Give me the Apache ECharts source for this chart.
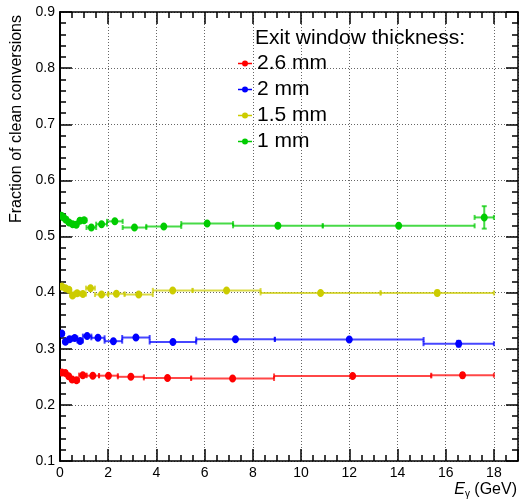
<!DOCTYPE html>
<html>
<head>
<meta charset="utf-8">
<script src="https://cdn.jsdelivr.net/npm/echarts@6/dist/echarts.min.js"></script>
<style>
html,body{margin:0;padding:0;background:#fff;}
#chart{width:519px;height:500px;}
</style>
</head>
<body>
<div id="chart"></div>
<script>
// ---- data ----
const seriesNames = ['2.6 mm', '2 mm', '1.5 mm', '1 mm'];
const legendTitle = 'Exit window thickness:';
const xTickLabels = [0, 2, 4, 6, 8, 10, 12, 14, 16, 18];
const yTickLabels = [0.1, 0.2, 0.3, 0.4, 0.5, 0.6, 0.7, 0.8, 0.9];

// 2.6 mm (red)
const e26   = [0.075, 0.22, 0.36, 0.505, 0.685, 0.945, 1.36, 2.01, 2.94, 4.46, 7.16, 12.14, 16.7];
const hw26  = [0.075, 0.07, 0.07, 0.075, 0.105, 0.155, 0.26, 0.39, 0.54, 0.98, 1.72, 3.26, 1.3];
const v26   = [0.2576, 0.257, 0.251, 0.245, 0.244, 0.253, 0.252, 0.252, 0.250, 0.248, 0.247, 0.2515, 0.2528];
const err26 = [0.003, 0.003, 0.003, 0.003, 0.002, 0.002, 0.002, 0.002, 0.002, 0.002, 0.002, 0.002, 0.004];

// 2 mm (blue)
const e20   = [0.075, 0.225, 0.40, 0.61, 0.835, 1.125, 1.575, 2.215, 3.15, 4.685, 7.28, 12.0, 16.54];
const hw20  = [0.075, 0.075, 0.10, 0.11, 0.115, 0.175, 0.275, 0.365, 0.57, 0.965, 1.63, 3.085, 1.46];
const v20   = [0.327, 0.3125, 0.317, 0.319, 0.314, 0.3225, 0.3195, 0.3135, 0.320, 0.312, 0.317, 0.3165, 0.309];
const err20 = [0.003, 0.003, 0.003, 0.003, 0.002, 0.002, 0.002, 0.002, 0.002, 0.002, 0.002, 0.002, 0.005];

// 1.5 mm (yellow)
const e15   = [0.075, 0.225, 0.37, 0.52, 0.71, 0.95, 1.265, 1.725, 2.34, 3.265, 4.675, 6.91, 10.81, 15.65];
const hw15  = [0.075, 0.075, 0.07, 0.08, 0.11, 0.13, 0.185, 0.275, 0.34, 0.585, 0.825, 1.41, 2.49, 2.35];
const v15   = [0.411, 0.408, 0.405, 0.395, 0.399, 0.3975, 0.408, 0.3966, 0.398, 0.3966, 0.404, 0.4037, 0.3995, 0.3995];
const err15 = [0.003, 0.003, 0.003, 0.003, 0.002, 0.002, 0.002, 0.002, 0.002, 0.002, 0.002, 0.002, 0.002, 0.004];

// 1 mm (green)
const e10   = [0.05, 0.15, 0.25, 0.375, 0.525, 0.675, 0.825, 1.0, 1.3, 1.725, 2.275, 3.09, 4.305, 6.105, 9.04, 14.05, 17.6];
const hw10  = [0.05, 0.05, 0.05, 0.075, 0.075, 0.075, 0.075, 0.1, 0.2, 0.225, 0.325, 0.49, 0.725, 1.075, 1.86, 3.15, 0.4];
const v10   = [0.537, 0.534, 0.530, 0.525, 0.522, 0.521, 0.528, 0.529, 0.516, 0.522, 0.527, 0.516, 0.518, 0.523, 0.519, 0.519, 0.534];
const err10 = [0.004, 0.004, 0.004, 0.003, 0.003, 0.003, 0.003, 0.003, 0.003, 0.002, 0.002, 0.002, 0.002, 0.002, 0.002, 0.002, 0.02];

const seriesColors = ['#ff0000', '#0000ff', '#cccc00', '#00cc00'];
const FONT = 'Liberation Sans, Arial, Helvetica, sans-serif';

function rows(e, hw, v, err) {
  return e.map((x, i) => [x, v[i], hw[i], err[i]]);
}
const seriesData = [
  rows(e26, hw26, v26, err26),
  rows(e20, hw20, v20, err20),
  rows(e15, hw15, v15, err15),
  rows(e10, hw10, v10, err10)
];

function makeRender(color) {
  return function (params, api) {
    const E = api.value(0), v = api.value(1), hw = api.value(2), er = api.value(3);
    const pL = api.coord([E - hw, v]);
    const pR = api.coord([E + hw, v]);
    const pC = api.coord([E, v]);
    const pT = api.coord([E, v + er]);
    const pB = api.coord([E, v - er]);
    const ls = { stroke: color, lineWidth: 2, opacity: 0.72 };
    const cap = 2.5;
    return {
      type: 'group',
      children: [
        { type: 'line', shape: { x1: pL[0], y1: pL[1], x2: pR[0], y2: pR[1] }, style: ls },
        { type: 'line', shape: { x1: pL[0], y1: pL[1] - cap, x2: pL[0], y2: pL[1] + cap }, style: ls },
        { type: 'line', shape: { x1: pR[0], y1: pR[1] - cap, x2: pR[0], y2: pR[1] + cap }, style: ls },
        { type: 'line', shape: { x1: pT[0], y1: pT[1], x2: pB[0], y2: pB[1] }, style: ls },
        { type: 'line', shape: { x1: pT[0] - cap, y1: pT[1], x2: pT[0] + cap, y2: pT[1] }, style: ls },
        { type: 'line', shape: { x1: pB[0] - cap, y1: pB[1], x2: pB[0] + cap, y2: pB[1] }, style: ls },
        { type: 'ellipse', shape: { cx: pC[0], cy: pC[1], rx: 3.5, ry: 4 }, style: { fill: color } }
      ]
    };
  };
}

const legendIcon = 'path://M0,2.25H4.2V3.75H0Z M9.8,2.25H14V3.75H9.8Z M4,3A3,3 0 0,1 10,3A3,3 0 0,1 4,3Z';

const chart = echarts.init(document.getElementById('chart'), null, { renderer: 'canvas' });

const axisText = { color: '#000', fontFamily: FONT, fontSize: 14 };

chart.setOption({
  animation: false,
  backgroundColor: '#fff',
  textStyle: { fontFamily: FONT },
  title: {
    text: legendTitle,
    left: 255,
    top: 28,
    textStyle: { fontFamily: FONT, fontSize: 21, fontWeight: 'normal', color: '#000' },
    padding: 0
  },
  legend: {
    orient: 'vertical',
    left: 238,
    top: 53,
    itemWidth: 14,
    itemHeight: 6,
    itemGap: 5,
    padding: 0,
    textStyle: { fontFamily: FONT, fontSize: 21, color: '#000' },
    data: seriesNames.map((n, k) => ({
      name: n,
      icon: legendIcon,
      itemStyle: { color: seriesColors[k], borderWidth: 0, opacity: 1 }
    }))
  },
  grid: { left: 60, right: 1, top: 12, bottom: 39, containLabel: false },
  xAxis: [{
    type: 'value',
    min: 0, max: 19, interval: 2,
    axisLine: { show: true, onZero: false, lineStyle: { color: '#000', width: 1.5 } },
    axisTick: { show: true, inside: true, length: 12, lineStyle: { color: '#000', width: 1.5 } },
    minorTick: { show: true, splitNumber: 4, length: 6, lineStyle: { color: '#000', width: 1.5 } },
    axisLabel: {
      ...axisText, margin: 5, showMaxLabel: false,
      formatter: v => (xTickLabels.indexOf(v) >= 0 ? String(v) : '')
    },
    splitLine: { show: true, lineStyle: { color: '#666', type: [1, 2], width: 1 } }
  }, {
    type: 'value', position: 'top',
    min: 0, max: 19, interval: 2,
    axisLine: { show: true, onZero: false, lineStyle: { color: '#000', width: 1.5 } },
    axisTick: { show: true, inside: true, length: 12, lineStyle: { color: '#000', width: 1.5 } },
    minorTick: { show: true, splitNumber: 4, length: 6, lineStyle: { color: '#000', width: 1.5 } },
    axisLabel: { show: false },
    splitLine: { show: false }
  }],
  yAxis: [{
    type: 'value',
    min: 0.1, max: 0.9, interval: 0.1,
    axisLine: { show: true, onZero: false, lineStyle: { color: '#000', width: 2 } },
    axisTick: { show: true, inside: true, length: 12, lineStyle: { color: '#000', width: 1.5 } },
    minorTick: { show: true, splitNumber: 5, length: 6, lineStyle: { color: '#000', width: 1.5 } },
    axisLabel: {
      ...axisText, margin: 5,
      formatter: v => {
        const s = v.toFixed(1);
        return yTickLabels.map(t => t.toFixed(1)).indexOf(s) >= 0 ? s : '';
      }
    },
    splitLine: { show: true, lineStyle: { color: '#666', type: [1, 2], width: 1 } }
  }, {
    type: 'value', position: 'right',
    min: 0.1, max: 0.9, interval: 0.1,
    axisLine: { show: true, onZero: false, lineStyle: { color: '#000', width: 1.5 } },
    axisTick: { show: true, inside: true, length: 12, lineStyle: { color: '#000', width: 1.5 } },
    minorTick: { show: true, splitNumber: 5, length: 6, lineStyle: { color: '#000', width: 1.5 } },
    axisLabel: { show: false },
    splitLine: { show: false }
  }],
  graphic: [
    {
      type: 'text',
      x: 17, y: 15,
      rotation: Math.PI / 2,
      style: {
        text: 'Fraction of clean conversions',
        fontFamily: FONT, fontSize: 16, fill: '#000',
        align: 'right', verticalAlign: 'middle'
      }
    },
    {
      type: 'text',
      right: 2, top: 482,
      style: {
        text: '{i|E}{s|γ}{n| (GeV)}',
        rich: {
          i: { fontFamily: FONT, fontSize: 16, fontStyle: 'italic', fill: '#000' },
          s: { fontFamily: FONT, fontSize: 10, fill: '#000', padding: [8, 0, 0, 0] },
          n: { fontFamily: FONT, fontSize: 16, fill: '#000' }
        }
      }
    }
  ],
  series: seriesNames.map((n, k) => ({
    name: n,
    type: 'custom',
    xAxisIndex: 0,
    yAxisIndex: 0,
    clip: true,
    itemStyle: { color: seriesColors[k] },
    encode: { x: 0, y: 1 },
    renderItem: makeRender(seriesColors[k]),
    data: seriesData[k]
  }))
});
</script>
</body>
</html>
